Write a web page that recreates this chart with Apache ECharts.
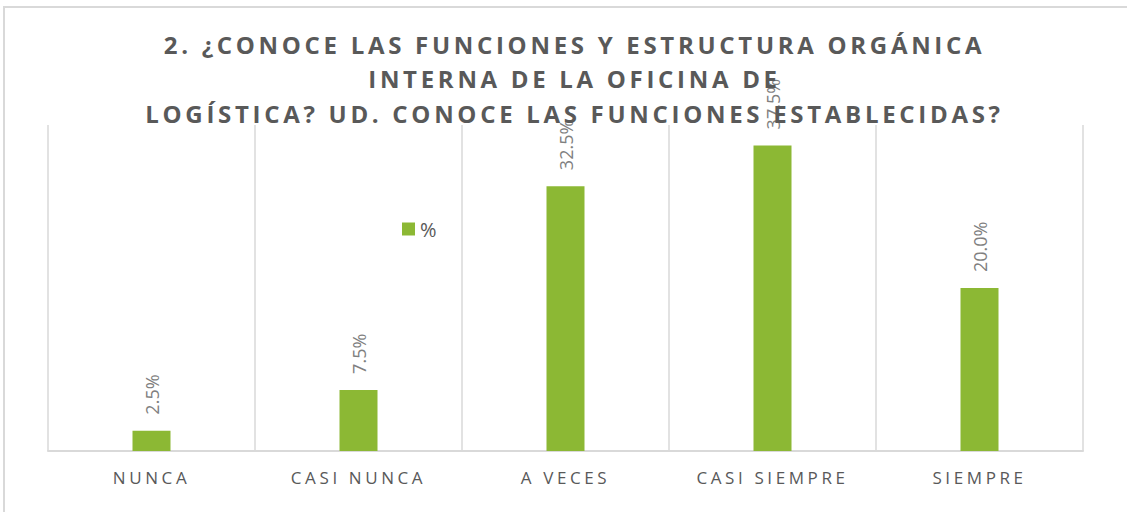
<!DOCTYPE html>
<html>
<head>
<meta charset="utf-8">
<script src="https://cdn.jsdelivr.net/npm/echarts@6/dist/echarts.min.js"></script>
<style>
    html, body { margin: 0; padding: 0; background: #fff; }
    #frame { position: absolute; left: 3px; top: 6px; width: 1140px; height: 520px; border-left: 2px solid #d9d9d9; border-top: 2px solid #d9d9d9; }
    #chart { position: absolute; left: 0; top: 0; width: 1127px; height: 512px; }
</style>
</head>
<body>
<div id="frame"></div>
<div id="chart"></div>
<script>
    const categories = ['NUNCA', 'CASI NUNCA', 'A VECES', 'CASI SIEMPRE', 'SIEMPRE'];
    const percent = [2.5, 7.5, 32.5, 37.5, 20.0];
    const title_lines = [
        '2. ¿CONOCE LAS FUNCIONES Y ESTRUCTURA ORGÁNICA',
        'INTERNA DE LA OFICINA DE',
        'LOGÍSTICA? UD. CONOCE LAS FUNCIONES ESTABLECIDAS?'
    ];

    const green = '#8cb834';
    const option = {
        animation: false,
        title: {
            text: title_lines.join('\n'),
            left: 'center',
            top: 22,
            textStyle: {
                fontFamily: 'Open Sans',
                fontWeight: 'bold',
                fontSize: 24,
                lineHeight: 34.5,
                color: '#595959'
            }
        },
        legend: {
            left: 397,
            top: 214,
            icon: 'rect',
            itemWidth: 13,
            itemHeight: 13,
            itemGap: 6,
            textStyle: { fontFamily: 'Open Sans', fontSize: 20, color: '#595959' },
            data: ['%']
        },
        grid: { left: 48, right: 44, top: 125, bottom: 61 },
        xAxis: {
            type: 'category',
            data: categories,
            axisLine: { lineStyle: { color: '#d9d9d9', width: 2 } },
            axisTick: { show: false },
            splitLine: { show: true, lineStyle: { color: '#d9d9d9', width: 1.5 } },
            axisLabel: {
                margin: 18,
                fontFamily: 'Open Sans',
                fontSize: 17,
                color: '#595959'
            }
        },
        yAxis: {
            type: 'value',
            min: 0,
            max: 40,
            show: false,
            splitLine: { show: false }
        },
        series: [
            {
                name: '%',
                type: 'bar',
                data: percent,
                barWidth: 38,
                itemStyle: { color: green },
                label: {
                    show: true,
                    position: 'top',
                    rotate: 90,
                    align: 'left',
                    verticalAlign: 'middle',
                    distance: 16,
                    fontFamily: 'Open Sans',
                    fontSize: 18,
                    color: '#7f7f7f',
                    formatter: (p) => p.value.toFixed(1) + '%'
                }
            }
        ]
    };

    const my_chart = echarts.init(document.getElementById('chart'), null, { renderer: 'svg' });
    my_chart.setOption(option);

    // Excel-style letter spacing on title and category texts
    // (title sits a bit right of centre in the original)
    const spread = () => {
        document.querySelectorAll('#chart text').forEach((t) => {
            const s = t.textContent;
            if (title_lines.indexOf(s) >= 0) {
                t.style.letterSpacing = '3.7px';
                t.setAttribute('dx', '11');
            } else if (categories.indexOf(s) >= 0) {
                t.style.letterSpacing = '3.6px';
            }
        });
    };
    spread();
    my_chart.on('finished', spread);
</script>
</body>
</html>
